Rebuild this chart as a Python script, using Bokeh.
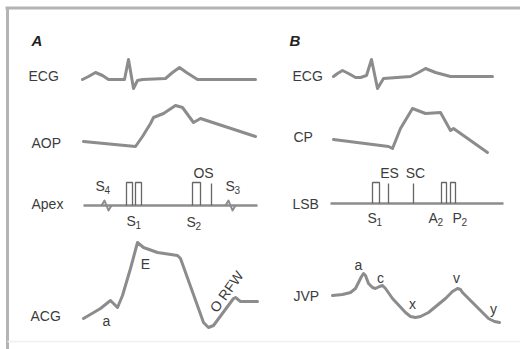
from bokeh.plotting import figure
from bokeh.embed import file_html
from bokeh.resources import INLINE
from bokeh.models import Range1d
from bokeh.core.properties import value

# ---- waveform data (time / amplitude in diagram units) ----
ecgA_t = [82, 88, 95, 102, 108, 118, 124, 128, 133, 137, 142, 165, 172, 179, 186, 197, 255]
ecgA_v = [79, 76, 72, 75, 79, 79, 79, 59, 88, 80, 79, 78, 72, 67, 72, 79, 79]

aop_t = [83, 135, 142, 150, 153, 158, 163, 169, 175, 182, 193, 200, 255]
aop_v = [141, 146, 136, 123, 117, 115, 113, 109, 105, 107, 122, 118, 136]

acg_t = [83, 100, 110, 117, 122, 130, 137, 143, 157, 177, 180, 203, 208, 213, 233, 235, 240, 257]
acg_v = [318, 308, 300, 307, 295, 268, 242, 247, 252, 255, 258, 322, 327, 325, 298, 297, 301, 301]

ecgB_t = [333, 337, 342, 348, 355, 360, 366, 371, 377, 383, 410, 418, 425, 435, 450, 492]
ecgB_v = [76, 73, 70, 73, 77, 77, 75, 59, 88, 78, 76, 72, 68, 72, 76, 76]

cp_t = [333, 388, 392, 400, 412, 425, 440, 450, 453, 487]
cp_v = [139, 146, 148, 128, 108, 113, 112, 130, 128, 152]

jvp_t = [332, 342, 350, 355, 358, 361, 363, 365, 368, 372, 375, 379, 382, 385, 392, 405, 410, 415,
         420, 428, 445, 452, 457, 460, 462, 475, 488, 494, 499]
jvp_v = [295, 294, 292, 288, 282, 276, 273, 275, 283, 287, 288, 286, 285, 288, 298, 312, 316, 317,
         316, 312, 298, 291, 288, 289, 292, 305, 318, 321, 322]

# phonocardiogram baselines and sounds
apex_span = [83, 257]
apex_base = 205
lsb_span = [330, 503]
lsb_base = 203
sound_top = 182
apex_boxes_l = [126, 135, 192]
apex_boxes_r = [132, 141, 200]
apex_lines = [211]
lsb_boxes_l = [372, 441, 450]
lsb_boxes_r = [379, 446, 455]
lsb_lines = [388, 413]
apex_wiggles = [106, 230]

# labels
row_labels = ["ECG", "AOP", "Apex", "ACG", "ECG", "CP", "LSB", "JVP"]
row_x = [28, 31, 31, 30, 292, 293, 292, 293]
row_y = [75, 142, 203, 315, 75, 136, 203, 295]

LINE = "#8c8c8c"
TXT = "#3c3c3c"
FONT = value("Liberation Sans")

p = figure(width=520, height=349, output_backend="svg", toolbar_location=None,
           x_range=Range1d(0, 520), y_range=Range1d(349, 0), min_border=0)
p.axis.visible = False
p.grid.visible = False
p.outline_line_color = None
p.background_fill_color = "white"

# frame
p.line([5, 520], [7.5, 7.5], line_color="#b4b4b4", line_width=3)
p.line([7, 7], [7.5, 349], line_color="#b4b4b4", line_width=3)
p.line([7, 520], [341, 341], line_color="#f0f0f0", line_width=1.5)

for t, v in [(ecgA_t, ecgA_v), (aop_t, aop_v), (acg_t, acg_v),
             (ecgB_t, ecgB_v), (cp_t, cp_v), (jvp_t, jvp_v)]:
    p.line(t, v, line_color=LINE, line_width=3, line_join="round", line_cap="round")

# baselines
p.line(apex_span, [apex_base] * 2, line_color=LINE, line_width=2.5)
p.line(lsb_span, [lsb_base] * 2, line_color=LINE, line_width=2.5)

# wiggles for S4 and S3
for wx in apex_wiggles:
    p.line([wx - 5, wx - 2, wx + 2, wx + 5], [apex_base, apex_base - 5, apex_base + 5, apex_base],
           line_color=LINE, line_width=2, line_join="round")

# sound boxes
for l, r in zip(apex_boxes_l, apex_boxes_r):
    p.line([l, l, r, r], [apex_base, sound_top, sound_top, apex_base], line_color="#666", line_width=1.3)
for l, r in zip(lsb_boxes_l, lsb_boxes_r):
    p.line([l, l, r, r], [lsb_base, sound_top, sound_top, lsb_base], line_color="#666", line_width=1.3)
for x in apex_lines:
    p.line([x, x], [sound_top + 1, apex_base], line_color="#666", line_width=1.3)
for x in lsb_lines:
    p.line([x, x], [sound_top + 1, lsb_base], line_color="#666", line_width=1.3)

# row labels
p.text(row_x, row_y, text=row_labels, text_font=FONT, text_font_size="14px",
       text_color=TXT, text_baseline="middle", text_align="left")

# panel letters
p.text([31, 289], [40, 40], text=["A", "B"], text_font=FONT, text_font_size="15px",
       text_font_style="bold italic", text_color="#222", text_baseline="middle")

# sound labels with subscripts
s_main_x = [95, 126, 186, 225, 367, 428, 452]
s_main_y = [185, 220, 221, 185, 217, 217, 217]
s_main = ["S", "S", "S", "S", "S", "A", "P"]
s_sub = ["4", "1", "2", "3", "1", "2", "2"]
p.text(s_main_x, s_main_y, text=s_main, text_font=FONT, text_font_size="14px",
       text_color=TXT, text_baseline="middle", text_align="left")
p.text([x + 9 for x in s_main_x], [y + 4 for y in s_main_y], text=s_sub, text_font=FONT,
       text_font_size="10px", text_color=TXT, text_baseline="middle", text_align="left")

# other annotations
ann_x = [203, 389, 415, 106, 145, 358, 380, 412, 456, 493]
ann_y = [172, 172, 172, 320, 263, 264, 277, 303, 277, 308]
ann_t = ["OS", "ES", "SC", "a", "E", "a", "c", "x", "v", "y"]
p.text(ann_x, ann_y, text=ann_t, text_font=FONT, text_font_size="14px",
       text_color=TXT, text_baseline="middle", text_align="center")
p.text([226], [291], text=["O RFW"], text_font=FONT, text_font_size="14px",
       text_color=TXT, text_baseline="middle", text_align="center", angle=0.95)

open("out.html", "w").write(file_html(p, INLINE))
